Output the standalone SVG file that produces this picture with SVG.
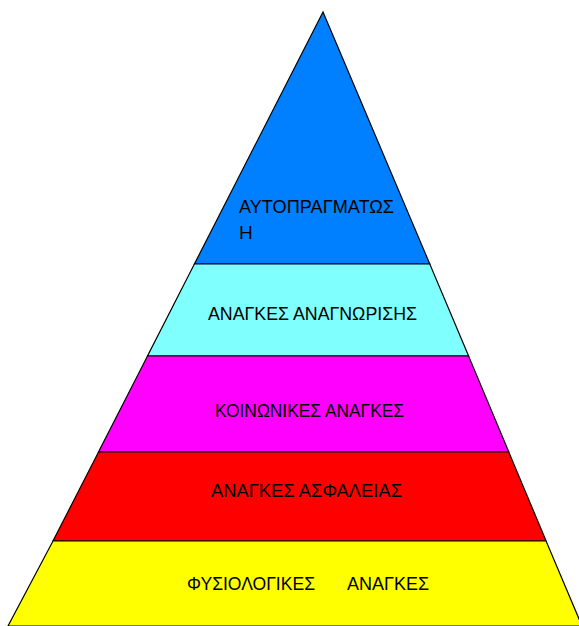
<svg xmlns="http://www.w3.org/2000/svg" width="579" height="626" viewBox="0 0 579 626">
  <style>
    .band { stroke: #000; stroke-width: 1.2; stroke-linejoin: miter; }
    .lbl { font-family: "Liberation Sans", Arial, sans-serif; font-size: 19px; fill: #000; }
  </style>
  <rect width="579" height="626" fill="#fff"/>
  <!-- Pyramid: apex (323,12), left edge to (10,625), right edge to (580,625) -->
  <g id="level-5">
    <polygon class="band" fill="#0080ff" points="323,12 194.4,264 429.8,264"/>
    <text class="lbl" x="239" y="213" textLength="155" lengthAdjust="spacingAndGlyphs">ΑΥΤΟΠΡΑΓΜΑΤΩΣ</text>
    <text class="lbl" x="239" y="239">Η</text>
  </g>
  <g id="level-4">
    <polygon class="band" fill="#80ffff" points="194.4,264 429.8,264 468.6,356 147.5,356"/>
    <text class="lbl" x="208" y="320" textLength="209" lengthAdjust="spacingAndGlyphs">ΑΝΑΓΚΕΣ ΑΝΑΓΝΩΡΙΣΗΣ</text>
  </g>
  <g id="level-3">
    <polygon class="band" fill="#ff00ff" points="147.5,356 468.6,356 508.8,452 98.5,452"/>
    <text class="lbl" x="215" y="417" textLength="189" lengthAdjust="spacingAndGlyphs">ΚΟΙΝΩΝΙΚΕΣ ΑΝΑΓΚΕΣ</text>
  </g>
  <g id="level-2">
    <polygon class="band" fill="#ff0000" points="98.5,452 508.8,452 546.1,541 53,541"/>
    <text class="lbl" x="211" y="497" textLength="191" lengthAdjust="spacingAndGlyphs">ΑΝΑΓΚΕΣ ΑΣΦΑΛΕΙΑΣ</text>
  </g>
  <g id="level-1">
    <polygon class="band" fill="#ffff00" points="53,541 546.1,541 582,626 8,626"/>
    <text class="lbl" x="187" y="590" textLength="128" lengthAdjust="spacingAndGlyphs">ΦΥΣΙΟΛΟΓΙΚΕΣ</text>
    <text class="lbl" x="347" y="590" textLength="82" lengthAdjust="spacingAndGlyphs">ΑΝΑΓΚΕΣ</text>
  </g>
  <g id="connectors"/>
</svg>
